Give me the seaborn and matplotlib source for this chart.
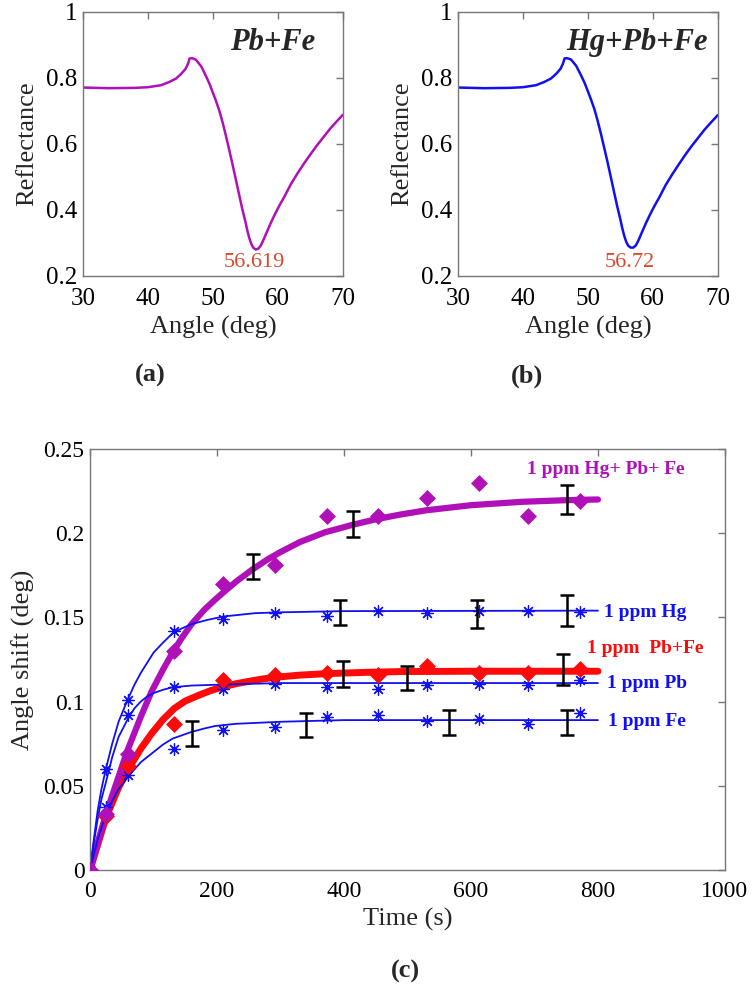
import matplotlib
matplotlib.use("Agg")
import matplotlib.pyplot as plt
import seaborn as sns
import pandas as pd

# ---- panel (a) / (b): SPR reflectance curves ----
angle = [30, 34, 38, 40, 42, 43.3, 44.3, 45.1, 45.8, 46.2, 46.4, 46.8, 47.4, 48.2, 49, 49.5,
         50, 50.5, 51, 51.5, 52, 52.5, 53, 53.5, 54, 54.5, 55, 55.3, 55.6, 55.9, 56.2, 56.6,
         57.0, 57.4, 57.8, 58.3, 58.9, 59.5, 60.2, 61, 62, 63, 64, 65, 66, 67, 68, 69, 70]
refl_pbfe = [0.771, 0.769, 0.770, 0.772, 0.778, 0.788, 0.798, 0.812, 0.828, 0.845, 0.859,
             0.860, 0.855, 0.835, 0.803, 0.781, 0.755, 0.729, 0.700, 0.665, 0.625, 0.583,
             0.540, 0.495, 0.450, 0.405, 0.365, 0.338, 0.315, 0.298, 0.286, 0.280, 0.283,
             0.293, 0.310, 0.333, 0.360, 0.385, 0.412, 0.440, 0.478, 0.510, 0.540, 0.568,
             0.595, 0.620, 0.645, 0.667, 0.688]
refl_hgpbfe = [0.771, 0.769, 0.770, 0.772, 0.778, 0.788, 0.798, 0.812, 0.828, 0.845, 0.859,
               0.860, 0.856, 0.837, 0.806, 0.785, 0.760, 0.734, 0.706, 0.671, 0.632, 0.590,
               0.548, 0.503, 0.458, 0.413, 0.372, 0.345, 0.322, 0.304, 0.292, 0.286, 0.286,
               0.293, 0.308, 0.331, 0.358, 0.383, 0.410, 0.438, 0.476, 0.508, 0.538, 0.567,
               0.594, 0.619, 0.644, 0.666, 0.687]
min_pbfe = 56.619
min_hgpbfe = 56.72

# ---- panel (c): angle shift vs time ----
t_meas = [0, 25, 60, 132, 210, 291, 373, 454, 531, 612, 690, 772]
hgpbfe_meas = [0, 0.033, 0.069, 0.130, 0.170, 0.181, 0.210, 0.210, 0.221, 0.230, 0.210, 0.219]
pbfe_meas = [0, 0.032, 0.062, 0.0865, 0.1126, 0.1155, 0.1169, 0.116, 0.1209, 0.1169, 0.117, 0.1195]
hg_meas = [0, 0.060, 0.1007, 0.1418, 0.149, 0.1525, 0.151, 0.1535, 0.1525, 0.154, 0.1537, 0.1532]
pb_meas = [0, 0.0375, 0.0918, 0.1086, 0.1076, 0.1106, 0.1086, 0.1076, 0.110, 0.1106, 0.110, 0.1126]
fe_meas = [0, 0.033, 0.0563, 0.0721, 0.0833, 0.0849, 0.0908, 0.0918, 0.0885, 0.0899, 0.0869, 0.0932]

# fitted curves
t_fit_hgpbfe = [0, 25, 58, 80, 97, 115, 130, 145, 160, 180, 197, 210, 230, 256, 280, 300, 331,
                370, 414, 450, 488, 530, 600, 680, 751, 800]
fit_hgpbfe = [0, 0.033, 0.070, 0.091, 0.106, 0.119, 0.129, 0.138, 0.146, 0.1545, 0.1605, 0.1648,
              0.1712, 0.1785, 0.1845, 0.1888, 0.1948, 0.2005, 0.2050, 0.2082, 0.2110, 0.2136,
              0.2166, 0.2186, 0.2196, 0.2200]
t_fit_pbfe = [0, 25, 45, 62, 80, 97, 115, 133, 150, 173, 190, 209, 230, 250, 270, 291, 330, 374,
              430, 488, 600, 800]
fit_pbfe = [0, 0.031, 0.049, 0.061, 0.072, 0.081, 0.0893, 0.0960, 0.1003, 0.1040, 0.1065, 0.1087,
            0.1106, 0.1120, 0.1133, 0.1144, 0.1157, 0.1166, 0.1173, 0.1178, 0.118, 0.118]
t_fit_hg = [0, 6, 12, 18, 25, 35, 45, 58, 70, 80, 90, 100, 115, 130, 145, 160, 185, 210, 260,
            300, 400, 800]
fit_hg = [0, 0.018, 0.035, 0.048, 0.060, 0.075, 0.088, 0.100, 0.110, 0.117, 0.123, 0.129, 0.135,
          0.1405, 0.1435, 0.146, 0.1485, 0.1505, 0.1525, 0.153, 0.1537, 0.154]
t_fit_pb = [0, 6, 12, 18, 25, 35, 45, 60, 70, 80, 90, 100, 115, 130, 160, 200, 300, 800]
fit_pb = [0, 0.016, 0.030, 0.042, 0.052, 0.067, 0.079, 0.090, 0.096, 0.100, 0.103, 0.105, 0.107,
          0.1085, 0.1095, 0.110, 0.111, 0.111]
t_fit_fe = [0, 12, 25, 35, 45, 62, 80, 100, 115, 130, 145, 160, 180, 197, 230, 300, 400, 800]
fit_fe = [0, 0.018, 0.033, 0.041, 0.048, 0.0563, 0.064, 0.070, 0.0745, 0.078, 0.080, 0.082, 0.084,
          0.0855, 0.0868, 0.088, 0.089, 0.089]

# error bars (time, centre, half-width)
err_t = [160, 340, 566, 752, 399, 499, 745, 394, 610, 752, 256, 414, 751]
err_y = [0.081, 0.0862, 0.0874, 0.0874, 0.1163, 0.114, 0.119, 0.153, 0.152, 0.154, 0.180, 0.2054, 0.220]
err_h = [0.0076, 0.0072, 0.0074, 0.0074, 0.0077, 0.0072, 0.009, 0.0073, 0.0085, 0.009, 0.0074,
         0.0075, 0.0087]

PURPLE = "#b010b8"
BLUE = "#1010f0"
RED = "#ff0a0a"
ANNOT = "#d9482c"
FRAME = "#777777"

sns.set_style("white")
plt.rcParams["font.family"] = ["Liberation Serif", "DejaVu Serif"]

fig = plt.figure(figsize=(7.55, 9.97), dpi=100)
ax_a = fig.add_axes([0.110, 0.7232, 0.344, 0.2648])
ax_b = fig.add_axes([0.6066, 0.7232, 0.344, 0.2648])
ax_c = fig.add_axes([0.1192, 0.1274, 0.841, 0.4223])


def style_axes(ax, size, xpad):
    for s in ax.spines.values():
        s.set_color(FRAME)
        s.set_linewidth(1.0)
    ax.tick_params(direction="in", top=True, right=True, length=5, width=1,
                   color=FRAME, labelsize=size, labelcolor="black", pad=4)
    ax.tick_params(axis="x", pad=xpad)


panels = [(ax_a, refl_pbfe, PURPLE, "Pb+Fe", min_pbfe, 0.892),
          (ax_b, refl_hgpbfe, BLUE, "Hg+Pb+Fe", min_hgpbfe, 0.96)]
for ax, refl, col, name, mn, xr in panels:
    df = pd.DataFrame({"angle": angle, "R": refl})
    sns.lineplot(data=df, x="angle", y="R", ax=ax, color=col, lw=1.8, sort=False, estimator=None)
    ax.set_xlim(30, 70)
    ax.set_ylim(0.2, 1.0)
    ax.set_xticks([30, 40, 50, 60, 70])
    ax.set_yticks([0.2, 0.4, 0.6, 0.8, 1.0])
    ax.set_yticklabels(["0.2", "0.4", "0.6", "0.8", "1"])
    ax.set_xlabel("Angle (deg)", fontsize=19, labelpad=4)
    ax.set_ylabel("Reflectance", fontsize=19, labelpad=6)
    style_axes(ax, 18, 9)
    ax.text(mn - 0.2, 0.242, f"{mn:g}", color=ANNOT, fontsize=16, ha="center", va="center")
    ax.text(xr, 0.883, name, transform=ax.transAxes, fontsize=22, fontweight="bold",
            fontstyle="italic", ha="right", va="center")

# panel (c)
fits = [(t_fit_pbfe, fit_pbfe, RED, 5.0), (t_fit_hgpbfe, fit_hgpbfe, PURPLE, 4.5),
        (t_fit_hg, fit_hg, BLUE, 1.3), (t_fit_pb, fit_pb, BLUE, 1.3), (t_fit_fe, fit_fe, BLUE, 1.3)]
for tt, yy, col, lw in fits:
    sns.lineplot(x=tt, y=yy, ax=ax_c, color=col, lw=lw, sort=False, estimator=None)

for meas in [hg_meas, pb_meas, fe_meas]:
    sns.scatterplot(x=t_meas, y=meas, ax=ax_c, marker=(8, 2, 0), s=70, color=BLUE,
                    edgecolor=BLUE, linewidth=0.9, zorder=4)
sns.scatterplot(x=t_meas, y=pbfe_meas, ax=ax_c, marker="D", s=75, color=RED, linewidth=0, zorder=5)
sns.scatterplot(x=t_meas, y=hgpbfe_meas, ax=ax_c, marker="D", s=75, color=PURPLE, linewidth=0,
                zorder=5)

ax_c.errorbar(err_t, err_y, yerr=err_h, fmt="none", ecolor="black", elinewidth=1.8,
              capsize=5, capthick=1.8, zorder=6)

ax_c.set_xlim(0, 1000)
ax_c.set_ylim(0, 0.25)
ax_c.set_xticks([0, 200, 400, 600, 800, 1000])
ax_c.set_yticks([0, 0.05, 0.1, 0.15, 0.2, 0.25])
ax_c.set_yticklabels(["0", "0.05", "0.1", "0.15", "0.2", "0.25"])
ax_c.set_xlabel("Time (s)", fontsize=19, labelpad=4)
ax_c.set_ylabel("Angle shift (deg)", fontsize=19, labelpad=6)
style_axes(ax_c, 17, 8)

lab = dict(fontsize=14, fontweight="bold", va="center", ha="left")
ax_c.text(688, 0.2376, "1 ppm Hg+ Pb+ Fe", color=PURPLE, **lab)
ax_c.text(809, 0.153, "1 ppm Hg", color=BLUE, **lab)
ax_c.text(783, 0.1315, "1 ppm  Pb+Fe", color=RED, **lab)
ax_c.text(814, 0.111, "1 ppm Pb", color=BLUE, **lab)
ax_c.text(816, 0.0884, "1 ppm Fe", color=BLUE, **lab)

fig.text(0.199, 0.623, "(a)", fontsize=19, fontweight="bold", ha="center", va="center")
fig.text(0.698, 0.623, "(b)", fontsize=19, fontweight="bold", ha="center", va="center")
fig.text(0.537, 0.026, "(c)", fontsize=19, fontweight="bold", ha="center", va="center")

fig.savefig("out.png", dpi=100)
